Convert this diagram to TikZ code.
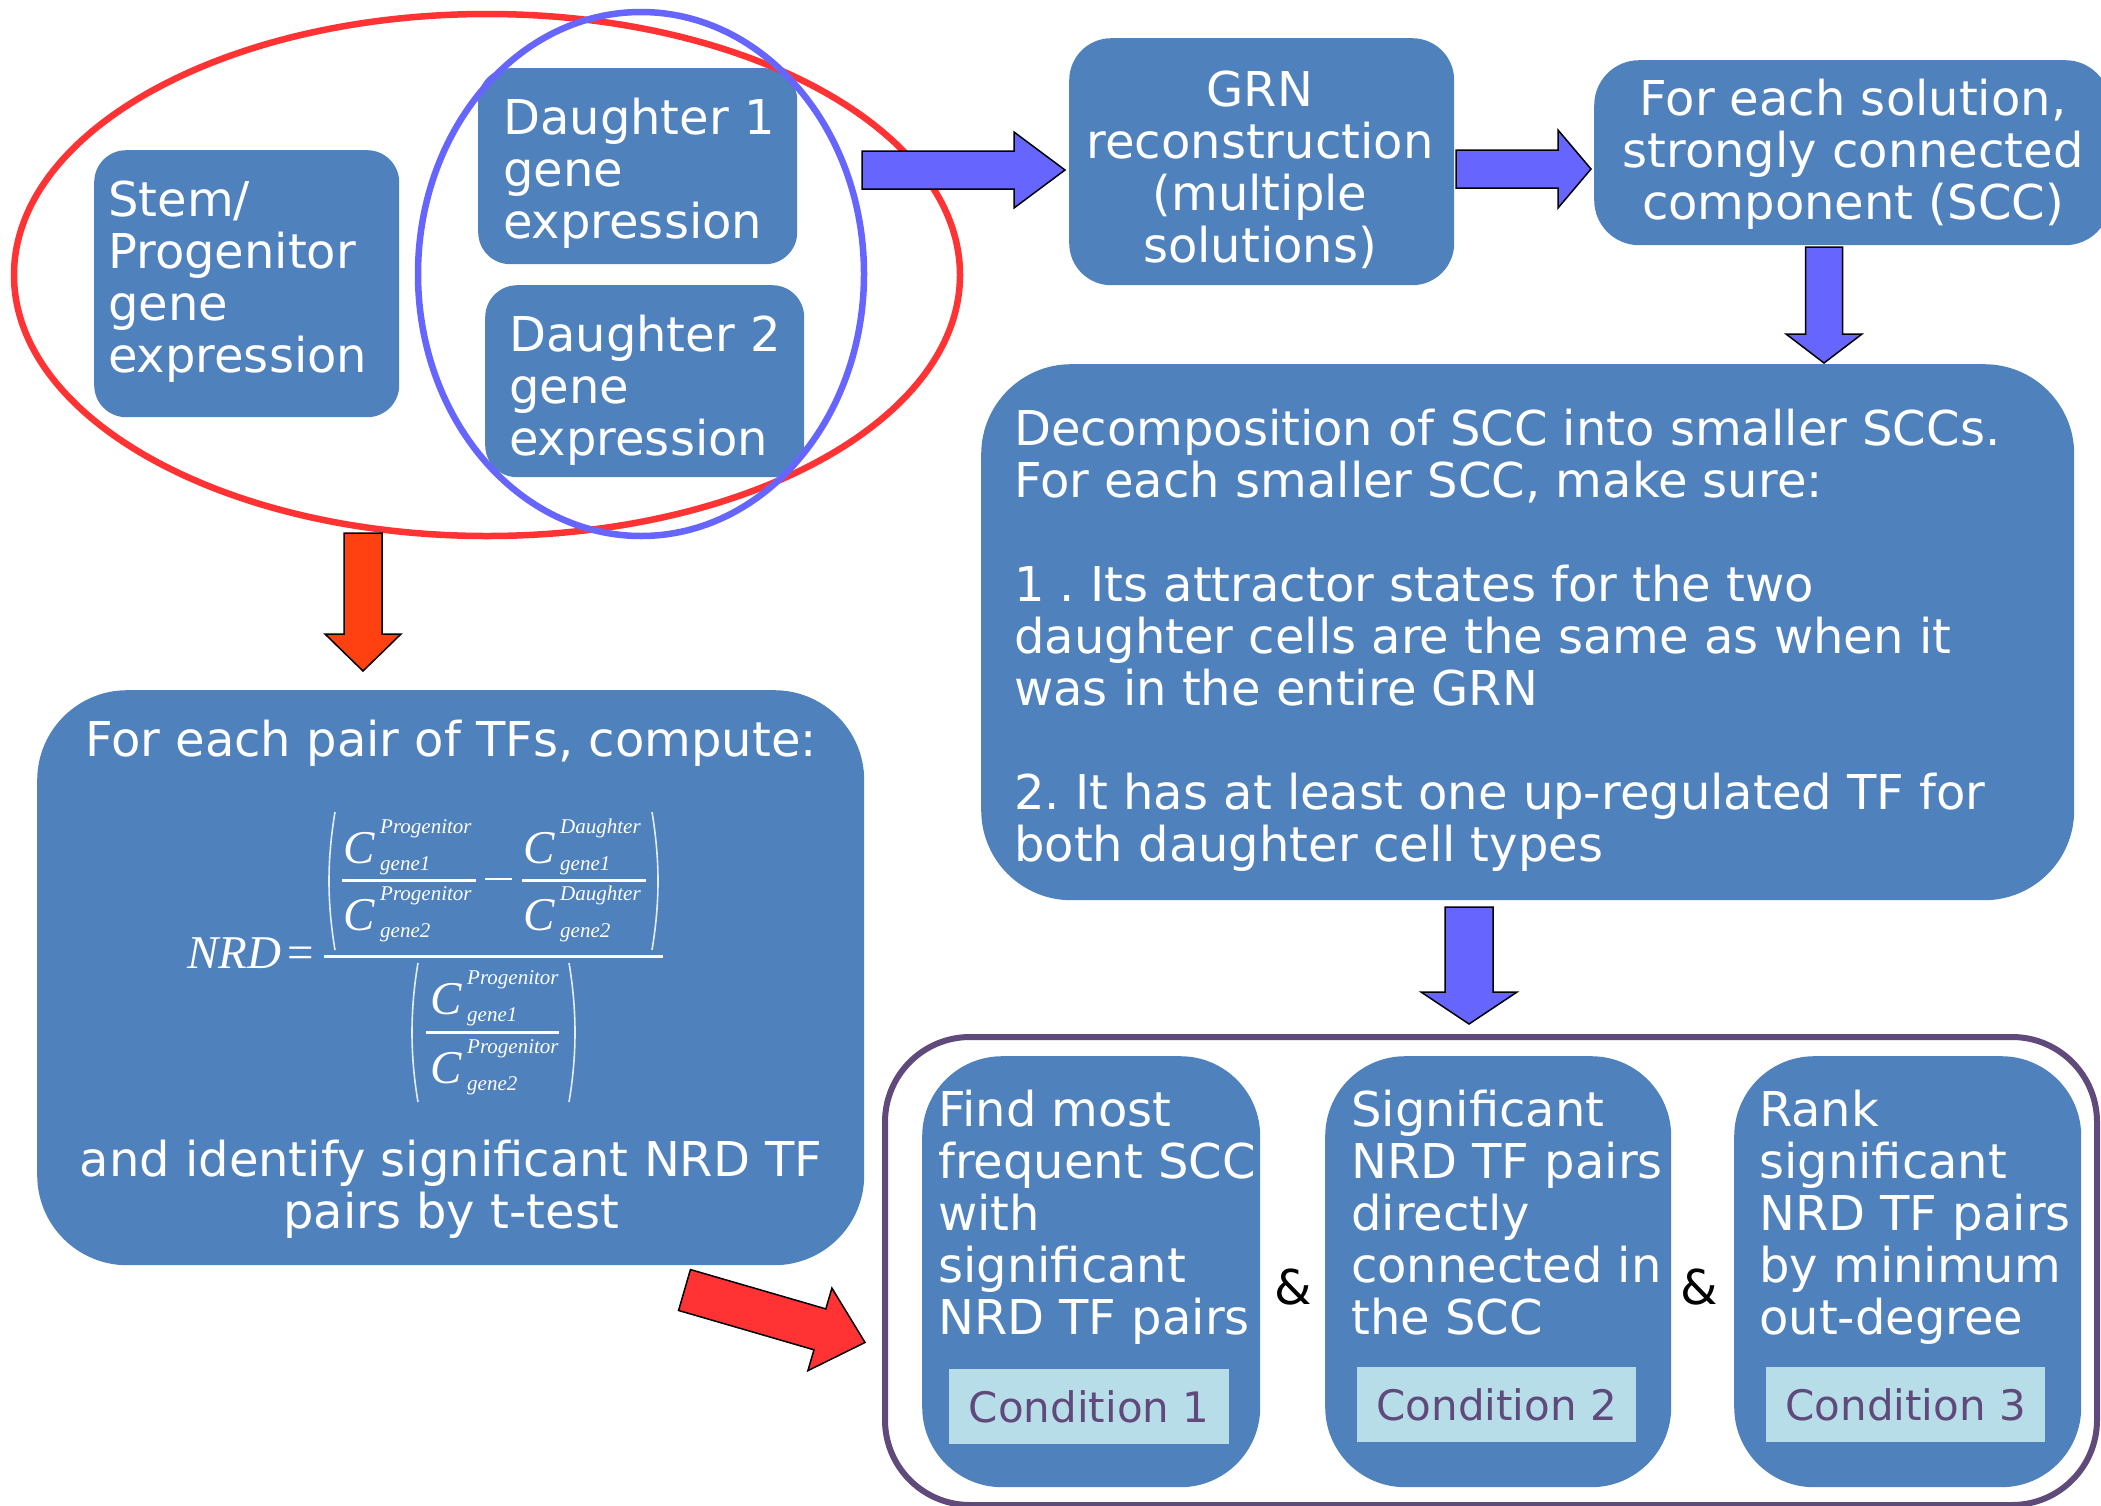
\documentclass[tikz,border=0pt]{standalone}
\usepackage{fontspec}
\setmainfont{DejaVu Sans}
\newfontfamily\formfont{Liberation Serif}
\usetikzlibrary{calc}
\frenchspacing
\definecolor{boxblue}{HTML}{4F81BD}
\definecolor{arrblue}{HTML}{6666FF}
\definecolor{ellred}{HTML}{FF3333}
\definecolor{arrorange}{HTML}{FF4010}
\definecolor{condbg}{HTML}{B7DEE8}
\definecolor{condpurple}{HTML}{604A7B}
\newcommand\fst{\rule{0pt}{40pt}}
\newcommand\blockarrow[8]{%
\begin{scope}[shift={#2}, rotate=#3]
\draw[#1] (0,-#5) -- (#4-#7,-#5) -- (#4-#7,-#6) -- (#4,0) -- (#4-#7,#6) -- (#4-#7,#5) -- (0,#5) -- cycle;
\coordinate (#8) at (#4,0);
\end{scope}}
% C with superscript and subscript: name, x, baseline, sup, sub
\newcommand\Cblock[5]{%
\node[fml, anchor=base west] (#1) at (#2,#3) {C};
\node[fmls, anchor=base west] (#1sup) at (#2+37,#3-30) {#4};
\node[fmls, anchor=base west] (#1sub) at (#2+37,#3+7) {#5};}
\tikzset{
 bluebox/.style={fill=boxblue, draw=none, inner sep=0pt, anchor=north west},
 txt/.style={text=white, font=\fontsize{48}{52}\selectfont\frenchspacing, inner sep=0pt, align=left, anchor=north west},
 ctxt/.style={txt, align=center, anchor=north},
 condlabel/.style={fill=condbg, draw=none, inner sep=0pt, anchor=north west, minimum height=75pt},
 condtxt/.style={text=condpurple, font=\fontsize{42}{46}\selectfont, inner sep=0pt},
 amp/.style={text=black, font=\fontsize{48}{52}\selectfont, inner sep=0pt},
 fml/.style={text=white, font=\formfont\itshape\fontsize{47}{50}\selectfont, inner sep=0pt},
 fmls/.style={text=white, font=\formfont\itshape\fontsize{21}{24}\selectfont, inner sep=0pt},
 fbar/.style={white, line width=3pt},
 fparen/.style={white!85!boxblue, line width=1.6pt},
 barblue/.style={fill=arrblue, draw=black, line width=1.5pt, line join=miter},
 barorange/.style={fill=arrorange, draw=black, line width=1.5pt, line join=miter},
 barred/.style={fill=ellred, draw=black, line width=1.5pt, line join=miter},
}
\begin{document}
\begin{tikzpicture}[x=1pt, y=-1pt]
\useasboundingbox (0,0) rectangle (2101,1505);

% boxes of the top-left group
\node[bluebox, rounded corners=32pt, minimum width=305pt, minimum height=267pt] (stem) at (94,150) {};
\node[bluebox, rounded corners=32pt, minimum width=319pt, minimum height=196pt] (d1) at (478,68) {};
\node[bluebox, rounded corners=32pt, minimum width=319pt, minimum height=192pt] (d2) at (485,285) {};
\node[txt] (stemt) at (108,176) {\fst Stem/\\Progenitor\\gene\\expression};
\node[txt] (d1t) at (503,94) {\fst Daughter 1\\gene\\expression};
\node[txt] (d2t) at (509,311) {\fst Daughter 2\\gene\\expression};

% ellipses
\draw[ellred, line width=6.5pt] (487,275) ellipse [x radius=473pt, y radius=261pt];
\draw[arrblue, line width=6.5pt] (641,274) ellipse [x radius=223pt, y radius=262pt];
\coordinate (groupE) at (862,170);
\coordinate (groupS) at (363,533);

% GRN and SCC boxes
\node[bluebox, rounded corners=42pt, minimum width=385pt, minimum height=247pt] (grn) at (1069,38) {};
\node[ctxt] (grnt) at (1260,66) {\fst GRN\\reconstruction\\(multiple\\solutions)};
\node[bluebox, rounded corners=45pt, minimum width=516pt, minimum height=185pt] (sol) at (1594,60) {};
\node[ctxt] (solt) at (1853,75) {\fst For each solution,\\strongly connected\\component (SCC)};

% decomposition box
\node[bluebox, rounded corners=90pt, minimum width=1093pt, minimum height=536pt] (dec) at (981,364) {};
\node[txt] (dect) at (1014,405) {\fst Decomposition of SCC into smaller SCCs.\\For each smaller SCC, make sure:\\[52pt]1 . Its attractor states for the two\\daughter cells are the same as when it\\was in the entire GRN\\[52pt]2. It has at least one up-regulated TF for\\both daughter cell types};

% NRD box
\node[bluebox, rounded corners=90pt, minimum width=827pt, minimum height=575pt] (nrd) at (37,690) {};
\node[ctxt] (nrdt1) at (451,716) {\fst For each pair of TFs, compute:};
\node[ctxt] (nrdt2) at (451,1136) {\fst and identify significant NRD TF\\pairs by t-test};

% formula
\node[fml, anchor=base west] (fnrd) at (187,968) {NRD};
\node[fml, font=\formfont\fontsize{47}{50}\selectfont, anchor=base west] (feq) at (287,968) {=};
\draw[fbar] (324,956) -- (663,956);
\draw[fparen] (335,812) .. controls (327,860) and (327,902) .. (335,950);
\draw[fparen] (652,812) .. controls (660,860) and (660,902) .. (652,950);
\Cblock{ca}{343}{863}{Progenitor}{gene1}
\draw[fbar] (342,880) -- (476,880);
\Cblock{cb}{343}{930}{Progenitor}{gene2}
\draw[white, line width=2.5pt] (485,879) -- (512,879);
\Cblock{cc}{523}{863}{Daughter}{gene1}
\draw[fbar] (522,880) -- (646,880);
\Cblock{cd}{523}{930}{Daughter}{gene2}
\draw[fparen] (418,963) .. controls (410,1010) and (410,1055) .. (418,1102);
\draw[fparen] (569,963) .. controls (577,1010) and (577,1055) .. (569,1102);
\Cblock{ce}{430}{1014}{Progenitor}{gene1}
\draw[fbar] (426,1032) -- (559,1032);
\Cblock{cf}{430}{1083}{Progenitor}{gene2}

% conditions group
\node[draw=condpurple, line width=6pt, rounded corners=85pt, inner sep=0pt, anchor=north west, minimum width=1212pt, minimum height=468pt] (outer) at (882,1034) {};
\node[bluebox, rounded corners=80pt, minimum width=338pt, minimum height=431pt] (c1) at (922,1056) {};
\node[bluebox, rounded corners=80pt, minimum width=346pt, minimum height=431pt] (c2) at (1325,1056) {};
\node[bluebox, rounded corners=80pt, minimum width=347pt, minimum height=431pt] (c3) at (1734,1056) {};
\node[txt] (c1t) at (938,1086) {\fst Find most\\frequent SCC\\with\\significant\\NRD TF pairs};
\node[txt] (c2t) at (1351,1086) {\fst Significant\\NRD TF pairs\\directly\\connected in\\the SCC};
\node[txt] (c3t) at (1759,1086) {\fst Rank\\significant\\NRD TF pairs\\by minimum\\out-degree};
\node[condlabel, minimum width=280pt] (l1) at (949,1369) {};
\node[condlabel, minimum width=279pt] (l2) at (1357,1367) {};
\node[condlabel, minimum width=279pt] (l3) at (1766,1367) {};
\node[condtxt] (l1t) at (l1.center) {Condition 1};
\node[condtxt] (l2t) at (l2.center) {Condition 2};
\node[condtxt] (l3t) at (l3.center) {Condition 3};
\node[amp] (amp1) at (1293,1287) {\&};
\node[amp] (amp2) at (1699,1287) {\&};

% block arrows
\blockarrow{barblue}{(groupE)}{0}{203}{19}{38}{51}{a1tip}
\coordinate (grnE) at (1456,169);
\blockarrow{barblue}{(grnE)}{0}{135}{19}{39}{33}{a2tip}
\coordinate (solS) at (1824,247);
\blockarrow{barblue}{(solS)}{-90}{116}{18.5}{38}{29}{a3tip}
\blockarrow{barorange}{(groupS)}{-90}{138}{19}{38}{37}{a4tip}
\coordinate (decS) at (1469,907);
\blockarrow{barblue}{(decS)}{-90}{117}{24}{48}{32}{a5tip}
\coordinate (nrdSE) at (684.5,1290);
\blockarrow{barred}{(nrdSE)}{-16.2}{188}{21.3}{43}{47}{a6tip}
\end{tikzpicture}
\end{document}
